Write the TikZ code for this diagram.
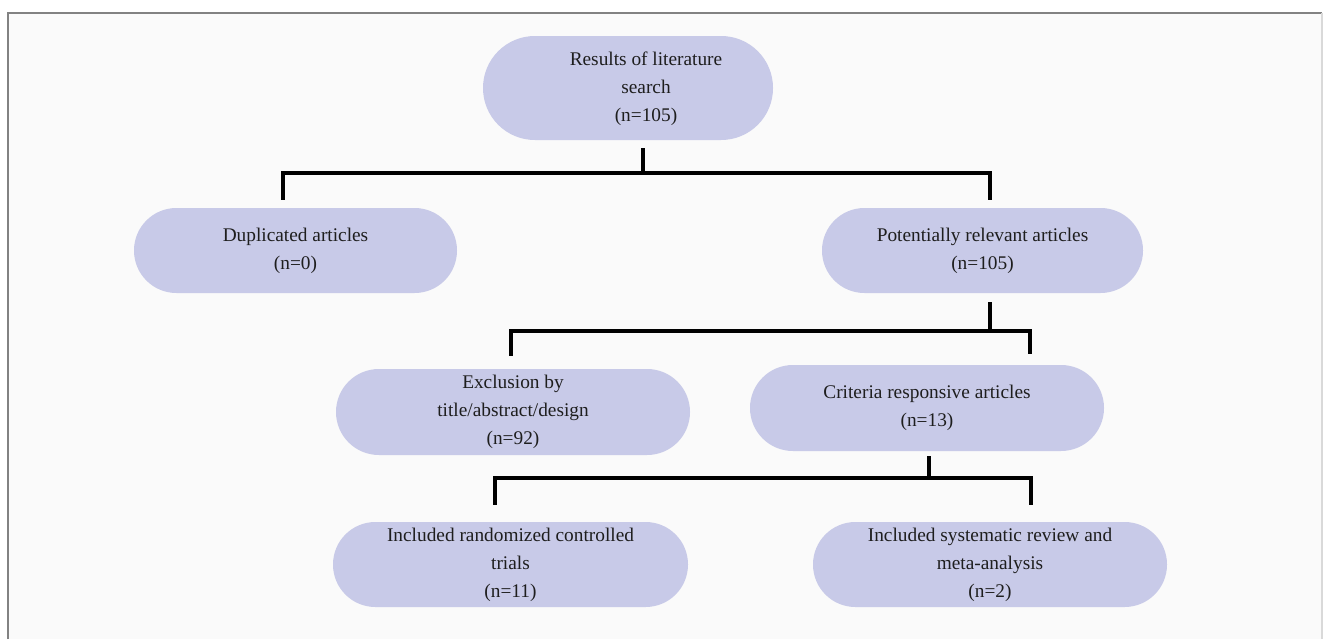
\documentclass[tikz,border=0pt]{standalone}
\usepackage{fontspec}
\setmainfont{Liberation Serif}
\usetikzlibrary{calc}
\definecolor{boxfill}{RGB}{200,202,232}
\definecolor{bg}{RGB}{250,250,250}
\definecolor{txt}{RGB}{30,30,30}
\definecolor{framec}{RGB}{130,130,130}
\begin{document}
\begin{tikzpicture}[x=0.75pt,y=-0.75pt,
  box/.style={fill=boxfill, draw=none, rounded corners=31.8pt, minimum height=63.75pt,
    align=center, font=\fontsize{14.5}{21}\selectfont, text=txt, inner sep=0pt},
  conn/.style={line width=3pt, line join=miter, draw=black}]
\useasboundingbox (0,0) rectangle (1323,639);
\fill[white] (0,0) rectangle (1323,639);
\fill[bg] (8,13) rectangle (1322,639);
\draw[framec, line width=1.2pt] (8,639) -- (8,13) -- (1322,13);
\draw[black!15, line width=0.8pt] (1322,13) -- (1322,639);

\node[box, minimum width=217.5pt, minimum height=78pt, rounded corners=38.9pt] (top) at (628,88)
  {\hspace*{27pt}\begin{tabular}{@{}c@{}}Results of literature\\search\\(n=105)\end{tabular}};
\node[box, minimum width=242.25pt] (dup) at (295.5,250.5) {Duplicated articles\\(n=0)};
\node[box, minimum width=240.75pt] (pot) at (982.5,250.5) {Potentially relevant articles\\(n=105)};
\node[box, minimum width=265.5pt, minimum height=64.5pt, rounded corners=32.2pt] (excl) at (513,412) {Exclusion by\\title/abstract/design\\(n=92)};
\node[box, minimum width=265.5pt, minimum height=64.5pt, rounded corners=32.2pt] (crit) at (927,408) {Criteria responsive articles\\(n=13)};
\node[box, minimum width=266.25pt] (rct) at (510.5,564.5) {Included randomized controlled\\trials\\(n=11)};
\node[box, minimum width=265.5pt] (sr) at (990,564.5) {Included systematic review and\\meta-analysis\\(n=2)};

\coordinate (j1) at ($(top.south)+(15,33)$);
\coordinate (j2) at ($(pot.south)+(7.5,38)$);
\coordinate (j3) at ($(crit.south)+(2,27)$);

\draw[conn] ($(top.south)+(15,8)$) -- (j1);
\draw[conn] ($(dup.north)+(-12.5,-8)$) |- (j1) -| ($(pot.north)+(7.5,-8)$);

\draw[conn] ($(pot.south)+(7.5,9)$) -- (j2);
\draw[conn] ($(excl.north)+(-2,-13)$) |- (j2) -| ($(crit.north)+(103,-11)$);

\draw[conn] ($(crit.south)+(2,5)$) -- (j3);
\draw[conn] ($(rct.north)+(-15.5,-17)$) |- (j3) -| ($(sr.north)+(41,-17)$);
\end{tikzpicture}
\end{document}
